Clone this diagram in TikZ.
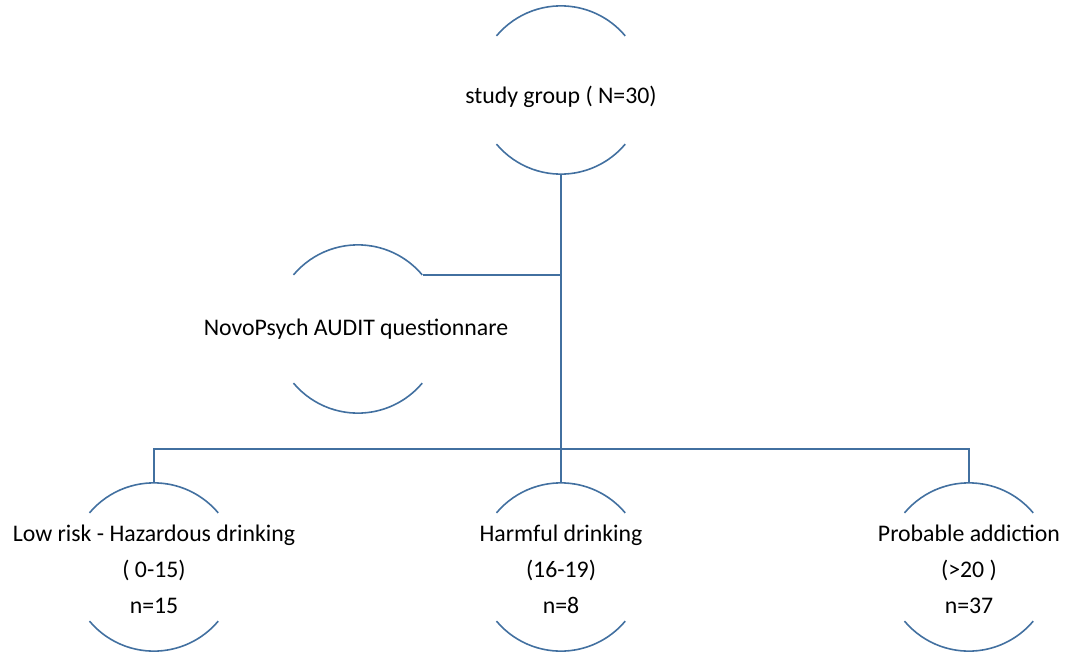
\documentclass[tikz,border=0pt]{standalone}
\usepackage{fontspec}
\setmainfont{Carlito}
\definecolor{ringblue}{RGB}{66,112,160}
\tikzset{
  ring/.style={circle,draw=none,minimum size=168pt,inner sep=0pt},
  txt/.style={align=center,font=\fontsize{23.8}{36}\selectfont,text=black},
  arcline/.style={draw=ringblue,line width=1.6pt},
  link/.style={draw=ringblue,line width=2.2pt}
}
\begin{document}
\begin{tikzpicture}[x=1pt,y=1pt]
                \useasboundingbox (0,0) rectangle (1065,-653);
                %% rings
                \node[ring] (S) at (561,-90) {};
                \node[ring] (Q) at (358,-329) {};
                \node[ring] (L) at (154,-567) {};
                \node[ring] (H) at (561,-567) {};
                \node[ring] (P) at (969,-567) {};
                \foreach \n in {S,Q,L,H,P} {
                    \draw[arcline] (\n.140) arc[start angle=140,end angle=40,radius=84];
                    \draw[arcline] (\n.220) arc[start angle=220,end angle=320,radius=84];
                }
                %% labels
                \node[txt] (St) at ([yshift=-7pt]S.center) {study group ( N=30)};
                \node[txt] (Qt) at ([xshift=-2pt]Q.center) {NovoPsych AUDIT questionnare};
                \node[txt] (Lt) at ([yshift=-2pt]L.center) {Low risk - Hazardous drinking\\( 0-15)\\n=15};
                \node[txt] (Ht) at ([yshift=-2pt]H.center) {Harmful drinking\\(16-19)\\n=8};
                \node[txt] (Pt) at ([yshift=-2pt]P.center) {Probable addiction\\(>20 )\\n=37};
                %% connectors
                \coordinate (J) at (561,-449);
                \draw[link] (S.south) -- (J);
                \draw[link] (Q.40) -- (S.south |- Q.40);
                \draw[link] (L.north) |- (J) -| (P.north);
                \draw[link] (J) -- (H.north);
\end{tikzpicture}
\end{document}
